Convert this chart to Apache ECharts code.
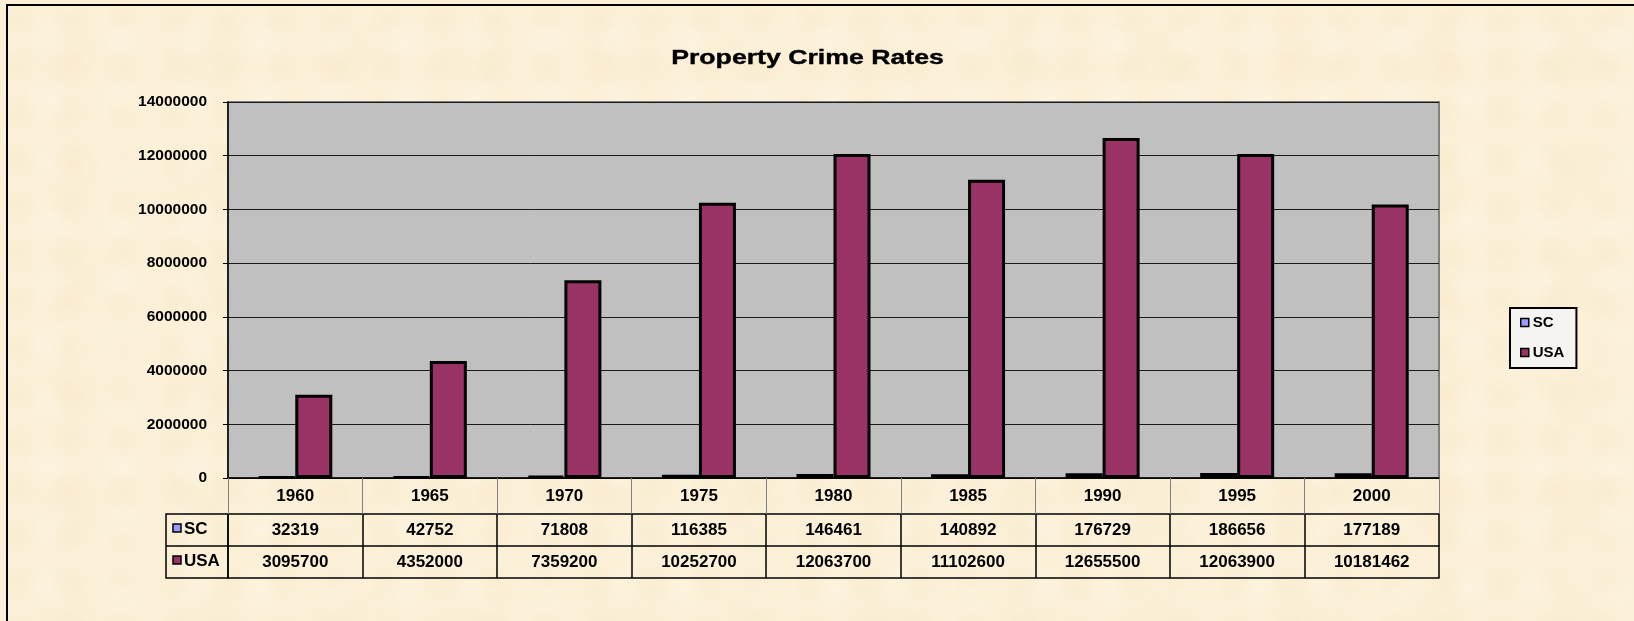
<!DOCTYPE html>
<html>
<head>
<meta charset="utf-8">
<script src="https://cdn.jsdelivr.net/npm/echarts@6/dist/echarts.min.js"></script>
<style>
  html, body { margin: 0; padding: 0; }
  body {
    width: 1634px; height: 621px; overflow: hidden;
    background-color: #FCF0D8;
    background-image:
      radial-gradient(circle at 30% 40%, rgba(244,224,182,0.2) 0, rgba(244,224,182,0) 22px),
      radial-gradient(circle at 70% 65%, rgba(255,249,236,0.3) 0, rgba(255,249,236,0) 26px),
      radial-gradient(circle at 50% 50%, rgba(246,228,192,0.18) 0, rgba(246,228,192,0) 45px);
    background-size: 53px 47px, 71px 61px, 137px 113px;
  }
  #chart { width: 1634px; height: 621px; }
</style>
</head>
<body>
<div id="chart"></div>
<script>
// ---- data ----
const years = ['1960', '1965', '1970', '1975', '1980', '1985', '1990', '1995', '2000'];
const scValues = [32319, 42752, 71808, 116385, 146461, 140892, 176729, 186656, 177189];
const usaValues = [3095700, 4352000, 7359200, 10252700, 12063700, 11102600, 12655500, 12063900, 10181462];
const seriesNames = ['SC', 'USA'];
const yMin = 0, yMax = 14000000, yStep = 2000000;
const titleText = 'Property Crime Rates';

// ---- layout / style ----
const FONT = 'Arial, "Liberation Sans", sans-serif';
const GRID = { left: 228, top: 102, width: 1211, height: 376 };
const YEAR_ROW = 36, DATA_ROW = 32;
const HEAD_W = 62;
const COLORS = ['#9999FF', '#993366'];

const gBottom = GRID.top + GRID.height;
const r1 = gBottom + YEAR_ROW;
const r2 = r1 + DATA_ROW;
const r3 = r2 + DATA_ROW;

function tableAxis(labels, offset, showTick) {
  return {
    type: 'category', position: 'bottom', offset: offset, data: labels,
    gridIndex: 0,
    axisLine: { show: true, lineStyle: { color: '#000', width: 1.5 } },
    axisTick: { show: showTick, interval: 0, length: DATA_ROW, lineStyle: { color: '#000', width: 1.5 } },
    axisLabel: { show: labels.length > 0, interval: 0, margin: 8, color: '#000',
      fontFamily: FONT, fontWeight: 'bold', fontSize: 17 },
    splitLine: { show: false }
  };
}

const chart = echarts.init(document.getElementById('chart'), null, { renderer: 'canvas' });

chart.setOption({
  backgroundColor: 'transparent',
  animation: false,
  grid: {
    left: GRID.left, top: GRID.top, width: GRID.width, height: GRID.height,
    containLabel: false, outerBoundsMode: 'none',
    show: true, backgroundColor: '#C0C0C0', borderColor: '#808080', borderWidth: 2
  },
  legend: {
    data: seriesNames, orient: 'vertical', left: 1510, top: 308,
    padding: [7, 12, 8, 10], itemGap: 15, itemWidth: 8, itemHeight: 8,
    icon: 'rect',
    itemStyle: { borderColor: '#000', borderWidth: 1.5 },
    backgroundColor: '#F5F4F1', borderColor: '#000', borderWidth: 2, borderRadius: 0,
    textStyle: { color: '#000', fontFamily: FONT, fontWeight: 'bold', fontSize: 15, padding: [0, 0, 0, -1] }
  },
  xAxis: [
    {
      type: 'category', position: 'bottom', data: years, gridIndex: 0,
      axisLine: { show: true, lineStyle: { color: '#000', width: 1.5 } },
      axisTick: { show: true, interval: 0, length: YEAR_ROW, lineStyle: { color: '#808080', width: 1 } },
      axisLabel: { interval: 0, margin: 10, color: '#000', fontFamily: FONT, fontWeight: 'bold', fontSize: 17 },
      splitLine: { show: false }
    },
    tableAxis(scValues.map(String), YEAR_ROW, true),
    tableAxis(usaValues.map(String), YEAR_ROW + DATA_ROW, true),
    tableAxis([], YEAR_ROW + 2 * DATA_ROW, false)
  ],
  yAxis: {
    type: 'value', min: yMin, max: yMax, interval: yStep,
    axisLine: { show: true, lineStyle: { color: '#000', width: 1.5 } },
    axisTick: { show: true, length: 5, lineStyle: { color: '#000', width: 1 } },
    axisLabel: { margin: 21, color: '#000', fontFamily: FONT, fontWeight: 'bold', fontSize: 15.5,
      formatter: v => String(v) },
    splitLine: { show: true, lineStyle: { color: '#1a1a1a', width: 1 } }
  },
  series: seriesNames.map((name, i) => ({
    name: name, type: 'bar', xAxisIndex: 0, yAxisIndex: 0,
    data: i === 0 ? scValues : usaValues,
    barWidth: 37, barGap: '0%',
    itemStyle: { color: COLORS[i], borderColor: '#000', borderWidth: 3 }
  })),
  graphic: [
    { type: 'rect', silent: true, z: 100,
      shape: { x: 7, y: 5, width: 2000, height: 1000 },
      style: { fill: 'none', stroke: '#000', lineWidth: 2 } },
    { type: 'text', silent: true, x: 807.5, y: 58, scaleX: 1.27, scaleY: 1,
      style: { text: titleText, x: 0, y: 0, align: 'center', verticalAlign: 'middle',
        font: 'bold 21px ' + FONT, fill: '#000', stroke: '#000', lineWidth: 0.4 } },
    // table row header column
    { type: 'rect', silent: true,
      shape: { x: GRID.left - HEAD_W, y: r1, width: HEAD_W, height: r3 - r1 },
      style: { fill: 'none', stroke: '#000', lineWidth: 1.5 } },
    { type: 'line', silent: true,
      shape: { x1: GRID.left - HEAD_W, y1: r2, x2: GRID.left, y2: r2 },
      style: { stroke: '#000', lineWidth: 1.5 } },
    { type: 'rect', silent: true,
      shape: { x: GRID.left - HEAD_W + 7, y: r1 + 10, width: 8, height: 8 },
      style: { fill: COLORS[0], stroke: '#000', lineWidth: 1.5 } },
    { type: 'rect', silent: true,
      shape: { x: GRID.left - HEAD_W + 7, y: r2 + 10, width: 8, height: 8 },
      style: { fill: COLORS[1], stroke: '#000', lineWidth: 1.5 } },
    { type: 'text', silent: true,
      style: { text: seriesNames[0], x: GRID.left - HEAD_W + 18, y: r1 + 15.5, verticalAlign: 'middle',
        font: 'bold 17px ' + FONT, fill: '#000' } },
    { type: 'text', silent: true,
      style: { text: seriesNames[1], x: GRID.left - HEAD_W + 18, y: r2 + 15.5, verticalAlign: 'middle',
        font: 'bold 17px ' + FONT, fill: '#000' } }
  ]
});
</script>
</body>
</html>
